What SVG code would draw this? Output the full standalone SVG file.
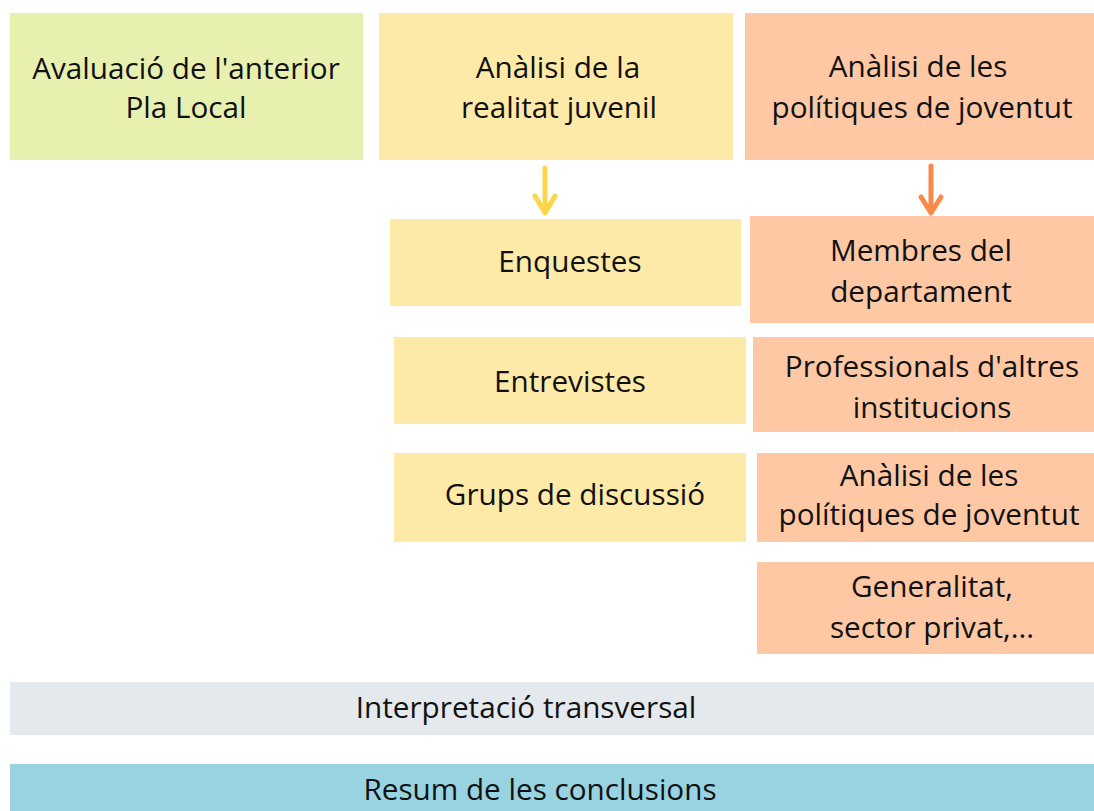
<svg xmlns="http://www.w3.org/2000/svg" width="1094" height="811" viewBox="0 0 1094 811">
<style>
text{font-family:"Open Sans","Noto Sans","DejaVu Sans",sans-serif;font-size:29.7px;fill:#111;text-anchor:middle}
.g{fill:#e8f0b0}.y{fill:#feeaa8}.o{fill:#fec8a5}.gr{fill:#e4e9ed}.b{fill:#99d3e2}
.ay{stroke:#fbd54a;stroke-width:5;fill:none;stroke-linecap:round;stroke-linejoin:round}
.ao{stroke:#f98b4a;stroke-width:5;fill:none;stroke-linecap:round;stroke-linejoin:round}
</style>
<rect width="1094" height="811" fill="#fff"/>
<g id="avaluacio"><rect class="g" x="10" y="13" width="353" height="147"/><text x="186" y="79">Avaluació de l'anterior</text><text x="186" y="118">Pla Local</text></g>
<g id="analisi-realitat"><rect class="y" x="379" y="13" width="354" height="147"/><text x="558" y="78">Anàlisi de la</text><text x="559" y="118">realitat juvenil</text></g>
<g id="analisi-politiques"><rect class="o" x="745" y="13" width="349" height="147"/><text x="918" y="77">Anàlisi de les</text><text x="922" y="118">polítiques de joventut</text></g>
<g id="enquestes"><rect class="y" x="390" y="219" width="351" height="87"/><text x="570" y="272">Enquestes</text></g>
<g id="membres"><rect class="o" x="750" y="216" width="344" height="107"/><text x="921" y="261">Membres del</text><text x="921" y="302">departament</text></g>
<g id="entrevistes"><rect class="y" x="394" y="337" width="352" height="87"/><text x="570" y="392">Entrevistes</text></g>
<g id="professionals"><rect class="o" x="753" y="337" width="341" height="95"/><text x="932" y="377">Professionals d'altres</text><text x="932" y="418">institucions</text></g>
<g id="grups"><rect class="y" x="394" y="453" width="352" height="89"/><text x="575" y="505">Grups de discussió</text></g>
<g id="analisi-politiques-2"><rect class="o" x="757" y="453" width="337" height="89"/><text x="929" y="486">Anàlisi de les</text><text x="929" y="525">polítiques de joventut</text></g>
<g id="generalitat"><rect class="o" x="757" y="562" width="337" height="92"/><text x="932" y="597">Generalitat,</text><text x="932" y="638">sector privat,...</text></g>
<g id="interpretacio"><rect class="gr" x="10" y="682" width="1084" height="53"/><text x="526" y="718">Interpretació transversal</text></g>
<g id="resum"><rect class="b" x="10" y="764" width="1084" height="47"/><text x="540" y="800">Resum de les conclusions</text></g>
<g id="connectors">
<path class="ay" d="M545 168 V212 M535 196 L545 213 L555 196"/>
<path class="ao" d="M931 166 V212 M921 197 L931 213 L941 197"/>
</g>
</svg>
